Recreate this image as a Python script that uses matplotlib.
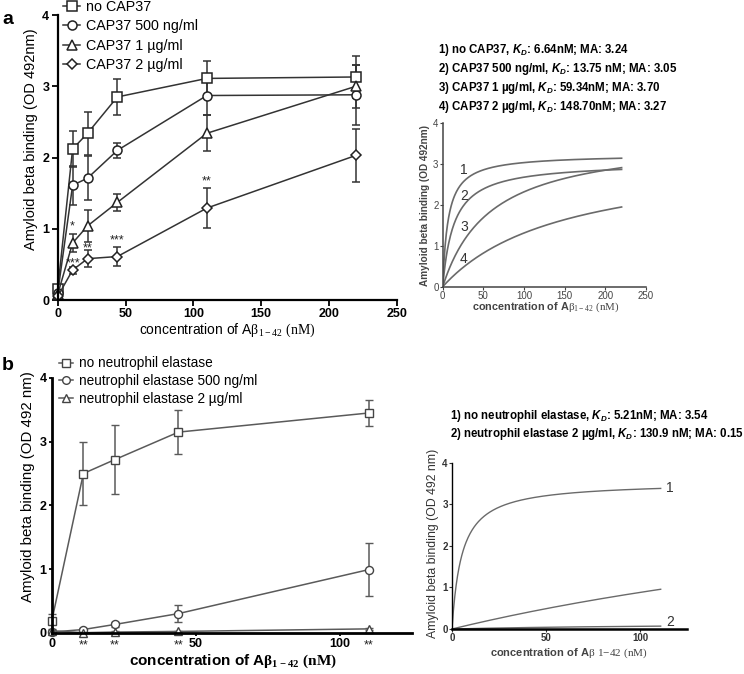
import numpy as np
import matplotlib.pyplot as plt
from matplotlib.lines import Line2D

plt.rcParams['font.family'] = ['Liberation Sans', 'DejaVu Sans']
plt.rcParams['mathtext.fontset'] = 'custom'
plt.rcParams['mathtext.rm'] = 'Liberation Serif'
plt.rcParams['mathtext.it'] = 'Liberation Sans:italic:bold'
plt.rcParams['mathtext.bf'] = 'Liberation Serif:bold'

# ---------------- data, panel a ----------------
conc_a = [0, 11, 22, 44, 110, 220]
no_cap37 = [0.15, 2.12, 2.34, 2.85, 3.11, 3.13]
no_cap37_err = [0.05, 0.25, 0.30, 0.25, 0.25, 0.30]
cap37_500 = [0.10, 1.61, 1.71, 2.10, 2.87, 2.88]
cap37_500_err = [0.05, 0.27, 0.31, 0.10, 0.28, 0.42]
cap37_1ug = [0.08, 0.80, 1.04, 1.37, 2.34, 3.00]
cap37_1ug_err = [0.03, 0.12, 0.22, 0.12, 0.25, 0.30]
cap37_2ug = [0.05, 0.42, 0.58, 0.61, 1.29, 2.03]
cap37_2ug_err = [0.03, 0.05, 0.12, 0.13, 0.28, 0.37]
labels_a = ['no CAP37', 'CAP37 500 ng/ml', 'CAP37 1 µg/ml', 'CAP37 2 µg/ml']

stars_a_x = [11, 11, 22, 44, 110]
stars_a_y = [1.03, 0.52, 0.73, 0.83, 1.66]
stars_a_txt = ['*', '***', '**', '***', '**']

# fitted one-site binding parameters (inset a)
kd_a = [6.64, 13.75, 59.34, 148.70]
ma_a = [3.24, 3.05, 3.70, 3.27]
fit_text_a = ['1) no CAP37, $K_D$: 6.64nM; MA: 3.24',
              '2) CAP37 500 ng/ml, $K_D$: 13.75 nM; MA: 3.05',
              '3) CAP37 1 µg/ml, $K_D$: 59.34nM; MA: 3.70',
              '4) CAP37 2 µg/ml, $K_D$: 148.70nM; MA: 3.27']
curve_lab_a_y = [2.86, 2.22, 1.45, 0.67]

# ---------------- data, panel b ----------------
conc_b = [0, 11, 22, 44, 110]
no_ne = [0.18, 2.50, 2.72, 3.15, 3.45]
no_ne_err = [0.12, 0.49, 0.54, 0.35, 0.21]
ne_500 = [0.01, 0.05, 0.13, 0.30, 0.99]
ne_500_err = [0.02, 0.02, 0.04, 0.13, 0.42]
ne_2ug = [0.03, 0.00, 0.01, 0.02, 0.06]
ne_2ug_err = [0.02, 0.01, 0.01, 0.01, 0.02]
labels_b = ['no neutrophil elastase', 'neutrophil elastase 500 ng/ml',
            'neutrophil elastase 2 µg/ml']
stars_b_x = [11, 22, 44, 110]

# inset b: 1) no NE, 2) NE 2 µg/ml, plus unlabelled 500 ng/ml curve (estimated)
kd_b = [5.21, 130.9, 400.0]
ma_b = [3.54, 0.15, 4.4]
fit_text_b = ['1) no neutrophil elastase, $K_D$: 5.21nM; MA: 3.54',
              '2) neutrophil elastase 2 µg/ml, $K_D$: 130.9 nM; MA: 0.15']

W, H = 744, 674


def box(x0, x1, ytop, ybot):
    return [x0 / W, 1 - ybot / H, (x1 - x0) / W, (ybot - ytop) / H]


def fx(px):
    return px / W


def fy(py):
    return 1 - py / H


def noclip(cont):
    line, caps, bars = cont.lines
    line.set_clip_on(False)
    for a in caps + bars:
        a.set_clip_on(False)


def style_main(ax, lw, tick_len, pad):
    for s in ['top', 'right']:
        ax.spines[s].set_visible(False)
    for s in ['left', 'bottom']:
        ax.spines[s].set_linewidth(lw)
    ax.tick_params(direction='out', length=tick_len, width=1.3, labelsize=9, pad=pad)
    for t in ax.get_xticklabels() + ax.get_yticklabels():
        t.set_fontweight('bold')


fig = plt.figure(figsize=(7.44, 6.74), dpi=100)

# ---------------- panel a main ----------------
ax = fig.add_axes(box(57.7, 396.7, 15, 300))
markers = ['s', 'o', '^', 'D']
sizes = [6.5, 6.5, 6.5, 5.0]
series = [(no_cap37, no_cap37_err), (cap37_500, cap37_500_err),
          (cap37_1ug, cap37_1ug_err), (cap37_2ug, cap37_2ug_err)]
for (y, e), m, ms in zip(series, markers, sizes):
    c = ax.errorbar(conc_a, y, yerr=e, color='#333333', lw=1.1, marker=m, ms=ms,
                    mfc='white', mec='#222222', mew=1.1, capsize=3,
                    elinewidth=1.1, capthick=1.1)
    noclip(c)
for sx, sy, st in zip(stars_a_x, stars_a_y, stars_a_txt):
    ax.text(sx, sy, st, ha='center', va='center', fontsize=9, color='#222222')
ax.set_xlim(0, 250)
ax.set_ylim(0, 4)
ax.set_xticks([0, 50, 100, 150, 200, 250])
ax.set_yticks([0, 1, 2, 3, 4])
style_main(ax, 1.6, 4, 2)
handles = [Line2D([], [], color='#333333', lw=1.1, marker=m, ms=ms, mfc='white',
                  mec='#222222', mew=1.1) for m, ms in zip(markers, sizes)]
ax.legend(handles, labels_a, loc='upper left', bbox_to_anchor=(fx(63), fy(0)),
          bbox_transform=fig.transFigure, frameon=False, fontsize=10.3,
          handlelength=1.2, handletextpad=0.4, labelspacing=0.38,
          borderpad=0, borderaxespad=0)
fig.text(fx(8), fy(19), 'a', fontsize=14, fontweight='bold', ha='center', va='center')
fig.text(fx(31.5), fy(139), 'Amyloid beta binding (OD 492nm)', rotation=90,
         fontsize=10.5, ha='center', va='center')
fig.text(fx(227), fy(330), r'concentration of A$\mathrm{\beta_{1-42}\ (nM)}$',
         fontsize=10, ha='center', va='center')

# ---------------- panel a inset ----------------
xa = np.linspace(0, 220, 300)
axi = fig.add_axes(box(442.7, 646, 123.3, 286.7))
for kd, ma in zip(kd_a, ma_a):
    axi.plot(xa, ma * xa / (kd + xa), color='#6a6a6a', lw=1.2)
for i, ly in enumerate(curve_lab_a_y):
    axi.text(26, ly, str(i + 1), fontsize=10, ha='center', va='center', color='#333333')
axi.set_xlim(0, 250)
axi.set_ylim(0, 4)
axi.set_xticks([0, 50, 100, 150, 200, 250])
axi.set_yticks([0, 1, 2, 3, 4])
for s in ['top', 'right']:
    axi.spines[s].set_visible(False)
for s in ['left', 'bottom']:
    axi.spines[s].set_linewidth(1.1)
    axi.spines[s].set_color('#444444')
axi.tick_params(direction='out', length=2, width=0.8, labelsize=7, pad=1,
                colors='#444444')
for i, t in enumerate(fit_text_a):
    fig.text(fx(438), fy(49.5 + 19.1 * i), t, fontsize=8.3, fontweight='bold',
             ha='left', va='center')
fig.text(fx(425), fy(205), 'Amyloid beta binding (OD 492nm)', rotation=90,
         fontsize=7.2, fontweight='bold', color='#444444', ha='center', va='center')
fig.text(fx(546), fy(307), r'concentration of A$\mathrm{\beta_{1-42}\ (nM)}$',
         fontsize=7.8, fontweight='bold', color='#444444', ha='center', va='center')

# ---------------- panel b main ----------------
bx = fig.add_axes(box(51.7, 411.7, 378, 632.7))
markers_b = ['s', 'o', '^']
series_b = [(no_ne, no_ne_err), (ne_500, ne_500_err), (ne_2ug, ne_2ug_err)]
for (y, e), m in zip(series_b, markers_b):
    c = bx.errorbar(conc_b, y, yerr=e, color='#5a5a5a', lw=1.1, marker=m, ms=5.8,
                    mfc='white', mec='#444444', mew=1.0, capsize=3,
                    elinewidth=1.1, capthick=1.1)
    noclip(c)
for sx in stars_b_x:
    bx.text(sx, -0.2, '**', ha='center', va='center', fontsize=9,
            color='#222222', clip_on=False)
bx.set_xlim(0, 125)
bx.set_ylim(0, 4)
bx.set_xticks([0, 50, 100])
bx.set_yticks([0, 1, 2, 3, 4])
style_main(bx, 2.0, 2.5, 1.2)
handles_b = [Line2D([], [], color='#5a5a5a', lw=1.1, marker=m, ms=5.5, mfc='white',
                    mec='#444444', mew=1.0) for m in markers_b]
bx.legend(handles_b, labels_b, loc='upper left', bbox_to_anchor=(fx(59), fy(356.5)),
          bbox_transform=fig.transFigure, frameon=False, fontsize=9.8,
          handlelength=1.0, handletextpad=0.45, labelspacing=0.27,
          borderpad=0, borderaxespad=0)
fig.text(fx(8), fy(365), 'b', fontsize=14, fontweight='bold', ha='center', va='center')
fig.text(fx(28.5), fy(487), 'Amyloid beta binding (OD 492 nm)', rotation=90,
         fontsize=10.8, ha='center', va='center')
fig.text(fx(232.5), fy(661.5), r'concentration of A$\mathbf{\beta_{1-42}\ (nM)}$',
         fontsize=11, fontweight='bold', ha='center', va='center')

# ---------------- panel b inset ----------------
xb = np.linspace(0, 111, 300)
bxi = fig.add_axes(box(452, 687, 462.7, 629))
for kd, ma in zip(kd_b, ma_b):
    bxi.plot(xb, ma * xb / (kd + xb), color='#6a6a6a', lw=1.0)
bxi.text(116, 3.39, '1', fontsize=10, ha='center', va='center', color='#333333')
bxi.text(116, 0.18, '2', fontsize=10, ha='center', va='center', color='#333333')
bxi.set_xlim(0, 125)
bxi.set_ylim(0, 4)
bxi.set_xticks([0, 50, 100])
bxi.set_yticks([0, 1, 2, 3, 4])
for s in ['top', 'right']:
    bxi.spines[s].set_visible(False)
bxi.spines['left'].set_linewidth(1.0)
bxi.spines['bottom'].set_linewidth(1.8)
bxi.tick_params(direction='out', length=2, width=0.8, labelsize=7, pad=1,
                colors='#333333')
for t in bxi.get_xticklabels() + bxi.get_yticklabels():
    t.set_fontweight('bold')
for i, t in enumerate(fit_text_b):
    fig.text(fx(450), fy(416 + 18 * i), t, fontsize=8.3, fontweight='bold',
             ha='left', va='center')
fig.text(fx(433), fy(543), 'Amyloid beta binding (OD 492 nm)', rotation=90,
         fontsize=8.8, color='#333333', ha='center', va='center')
fig.text(fx(569), fy(653), r'concentration of A$\mathrm{\beta\ 1{-}42\ (nM)}$',
         fontsize=8, fontweight='bold', color='#444444', ha='center', va='center')

fig.savefig('out.png', dpi=100, facecolor='white')
